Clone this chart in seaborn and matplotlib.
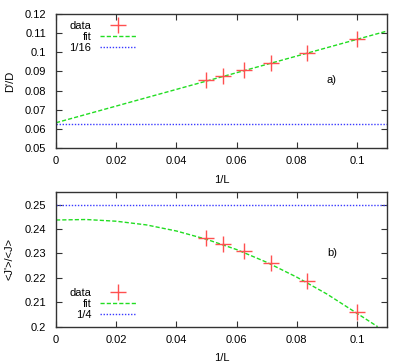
import numpy as np
import pandas as pd
import matplotlib
matplotlib.use("Agg")
import matplotlib.pyplot as plt
import seaborn as sns

# ===== Data =====
inv_L = [0.05, 0.0556, 0.0625, 0.0714, 0.0833, 0.1]
d_ratio = [0.0855, 0.0876, 0.0906, 0.0945, 0.0998, 0.1069]
j_ratio = [0.2362, 0.2338, 0.2310, 0.2260, 0.2187, 0.2061]

fit_a_x = [0.0, 0.11]
fit_a_y = [0.0632, 0.1111]

fit_b_x = [0.0, 0.01, 0.02, 0.03, 0.04, 0.05, 0.06, 0.07, 0.08, 0.09, 0.1, 0.1069]
fit_b_y = [0.2437, 0.2439, 0.2432, 0.2417, 0.2392, 0.2358, 0.2316, 0.2264,
           0.2203, 0.2134, 0.2055, 0.2000]

ref_a = 1 / 16
ref_b = 1 / 4

sns.set_style("ticks")
plt.rcParams["font.family"] = ["Liberation Sans", "DejaVu Sans"]
plt.rcParams["text.color"] = "black"
plt.rcParams["axes.labelcolor"] = "black"
plt.rcParams["xtick.color"] = "black"
plt.rcParams["ytick.color"] = "black"

RED = "#ff5050"
GREEN = "#22dd22"
BLUE = "#3a3aff"

fig = plt.figure(figsize=(4.15, 3.64), dpi=100)
ax1 = fig.add_axes([0.135, 0.5934, 0.7975, 0.3681])
ax2 = fig.add_axes([0.135, 0.1025, 0.7975, 0.3709])


def draw(ax, y, fx, fy, ref, ref_label):
    sns.lineplot(x=fx, y=fy, ax=ax, color=GREEN, lw=1.0, linestyle=(0, (3, 1.5)),
                 label="fit", sort=False)
    sns.lineplot(x=[0, 0.11], y=[ref, ref], ax=ax, color=BLUE, lw=1.0,
                 linestyle=(0, (1, 1.2)), label=ref_label)
    ax.plot(inv_L, y, linestyle="none", marker="+", markersize=12,
            markeredgewidth=1.0, color=RED, label="data")
    ax.set_xlim(0, 0.11)
    ax.set_xticks([0, 0.02, 0.04, 0.06, 0.08, 0.1])
    ax.set_xticklabels(["0", "0.02", "0.04", "0.06", "0.08", "0.1"])
    ax.tick_params(direction="in", top=True, right=True, labelsize=8, length=4,
                   width=0.8, color="#333333")
    ax.tick_params(axis="x", pad=6)
    ax.tick_params(axis="y", pad=7)
    for s in ax.spines.values():
        s.set_linewidth(1.0)
        s.set_color("#333333")
    ax.set_xlabel("1/L", fontsize=8, labelpad=6)
    h, l = ax.get_legend_handles_labels()
    order = [2, 0, 1]
    return [h[i] for i in order], [l[i] for i in order]


h, l = draw(ax1, d_ratio, fit_a_x, fit_a_y, ref_a, "1/16")
ax1.set_ylim(0.05, 0.12)
ax1.set_yticks([0.05, 0.06, 0.07, 0.08, 0.09, 0.1, 0.11, 0.12])
ax1.set_yticklabels(["0.05", "0.06", "0.07", "0.08", "0.09", "0.1", "0.11", "0.12"])
ax1.set_ylabel("D'/D", fontsize=8, labelpad=7)
ax1.text(0.09, 0.0855, "a)", fontsize=8, va="center")
ax1.legend(h, l, loc="upper left", frameon=False, markerfirst=False, fontsize=8,
           handlelength=3.2, borderaxespad=0.2, labelspacing=0.1,
           bbox_to_anchor=(0.02, 1.0))

h, l = draw(ax2, j_ratio, fit_b_x, fit_b_y, ref_b, "1/4")
ax2.set_ylim(0.2, 0.2553)
ax2.set_yticks([0.2, 0.21, 0.22, 0.23, 0.24, 0.25])
ax2.set_yticklabels(["0.2", "0.21", "0.22", "0.23", "0.24", "0.25"])
ax2.set_ylabel("<J'>/<J>", fontsize=8, labelpad=7)
ax2.text(0.09, 0.2303, "b)", fontsize=8, va="center")
ax2.legend(h, l, loc="lower left", frameon=False, markerfirst=False, fontsize=8,
           handlelength=3.2, borderaxespad=0.2, labelspacing=0.1,
           bbox_to_anchor=(0.02, 0.0))

fig.savefig("out.png", dpi=100)
